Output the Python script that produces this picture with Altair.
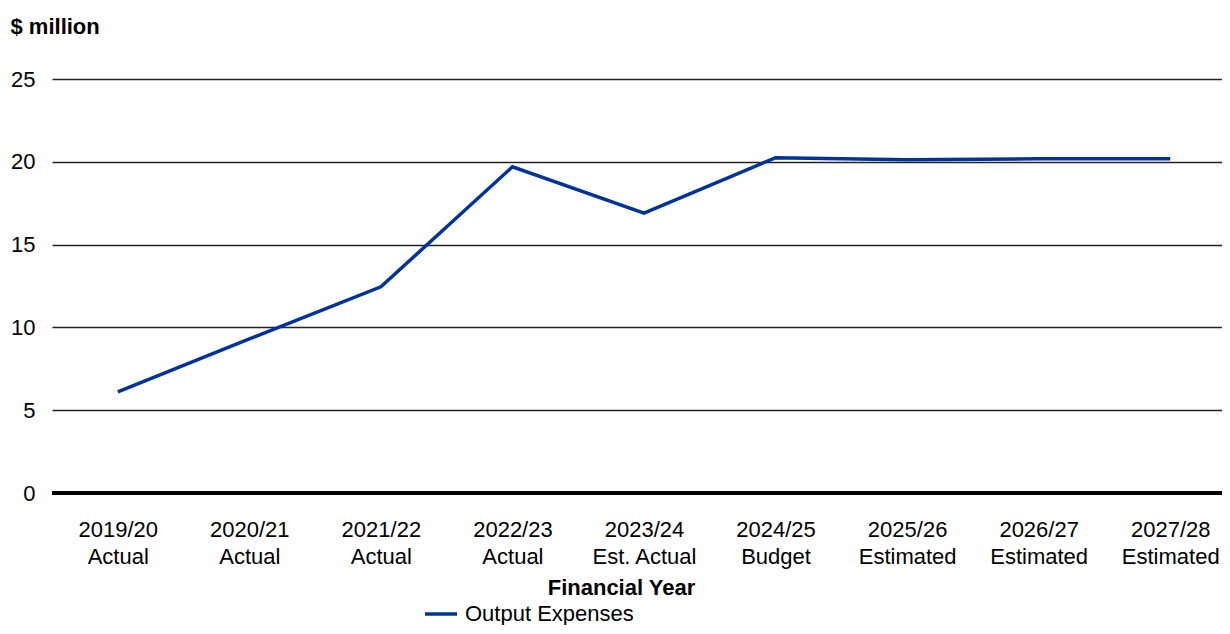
import altair as alt
import pandas as pd

years = ["2019/20\nActual", "2020/21\nActual", "2021/22\nActual", "2022/23\nActual",
         "2023/24\nEst. Actual", "2024/25\nBudget", "2025/26\nEstimated",
         "2026/27\nEstimated", "2027/28\nEstimated"]
values = [6.1, 9.3, 12.45, 19.7, 16.9, 20.25, 20.13, 20.18, 20.18]
series = ["Output Expenses"] * len(years)
y_ticks = [0, 5, 10, 15, 20, 25]
zero_line = [0]

FONT = "Liberation Sans"

df = pd.DataFrame({"year": years, "value": values, "series": series})
zdf = pd.DataFrame({"z": zero_line})

x_enc = alt.X(
    "year:N", sort=years,
    scale=alt.Scale(range=[0, 1184]),
    axis=alt.Axis(
        title="Financial Year", labelExpr="split(datum.label, '\\n')",
        labelAngle=0, labelFont=FONT, labelFontSize=22, labelColor="#000",
        labelLineHeight=27, labelPadding=26, ticks=False, domain=False, grid=False,
        titleFont=FONT, titleFontSize=22, titleFontWeight="bold", titleColor="#000",
        titleX=569, titleY=94, titleBaseline="middle", titleAnchor="start",
        titleAlign="center",
    ),
)

y_scale = alt.Scale(domain=[0, 25], nice=False, zero=True)

line = alt.Chart(df).mark_line(strokeWidth=3.5).encode(
    x=x_enc,
    y=alt.Y(
        "value:Q",
        scale=y_scale,
        axis=alt.Axis(
            values=y_ticks, title="$ million", titleAngle=0, titleX=-42, titleY=-53,
            titleAlign="left", titleBaseline="middle", titleFont=FONT, titleFontSize=22,
            titleFontWeight="bold", titleColor="#000",
            labelFont=FONT, labelFontSize=22, labelColor="#000", labelPadding=17,
            ticks=False, domain=False, grid=True, gridColor="#222", gridWidth=1.3,
        ),
    ),
    color=alt.Color(
        "series:N",
        scale=alt.Scale(range=["#003399"]),
        legend=alt.Legend(
            title=None, orient="none", legendX=371, legendY=517,
            symbolType="stroke", symbolStrokeWidth=3.5, symbolSize=1024,
            labelFont=FONT, labelFontSize=22, labelColor="#000", labelOffset=6,
            labelLimit=400,
        ),
    ),
)

zero = alt.Chart(zdf).mark_rule(color="#000", strokeWidth=4).encode(
    y=alt.Y("z:Q", scale=y_scale)
)

chart = alt.layer(zero, line).properties(
    width=1170, height=414,
    autosize=alt.AutoSizeParams(type="none"),
    padding={"left": 44, "top": 71, "right": 0, "bottom": 132},
).configure_view(stroke=None)

chart.save("out.html", embed_options={"renderer": "svg", "actions": False})
